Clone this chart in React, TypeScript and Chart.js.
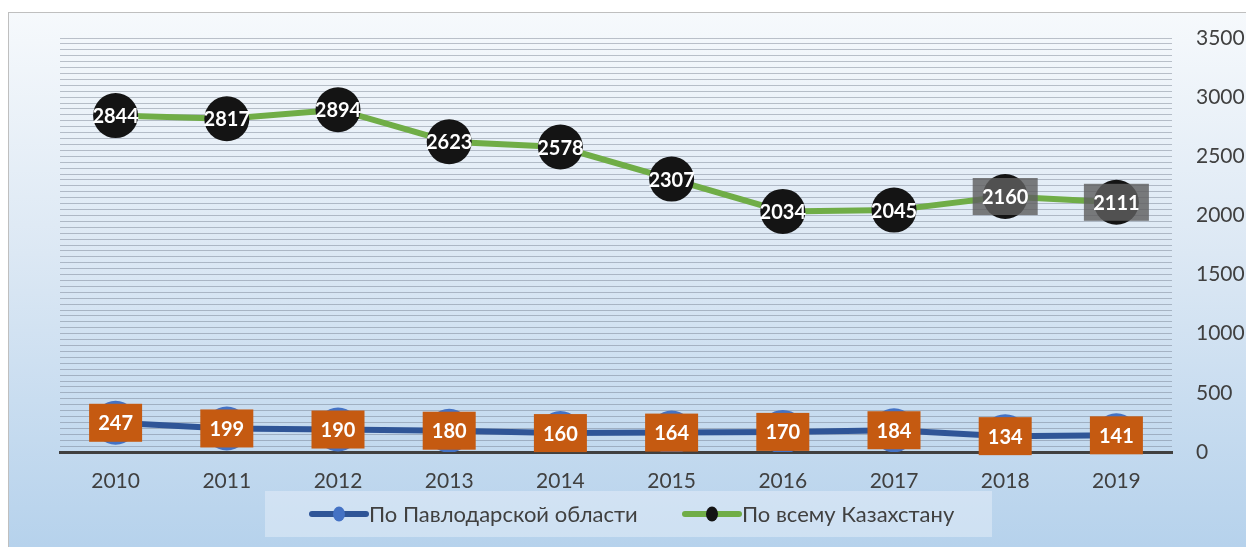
import React, { useEffect, useRef } from "react";
import { Chart, registerables } from "chart.js";

Chart.register(...registerables);

const years = ["2010", "2011", "2012", "2013", "2014", "2015", "2016", "2017", "2018", "2019"];
const pavlodar = [247, 199, 190, 180, 160, 164, 170, 184, 134, 141];
const kazakhstan = [2844, 2817, 2894, 2623, 2578, 2307, 2034, 2045, 2160, 2111];
const seriesNames = ["По Павлодарской области", "По всему Казахстану"];
const yMax = 3500;
const yLabelStep = 500;
const yGridStep = 50;

const FONT = "Lato, 'Noto Sans', 'DejaVu Sans', sans-serif";
const BLUE_LINE = "#2f5597";
const BLUE_POINT = "#4472c4";
const GREEN_LINE = "#70ad47";
const BLACK_POINT = "#141414";
const ORANGE = "#c55a11";

const labelPlugin = {
  id: "valueLabels",
  afterDatasetsDraw(chart: any) {
    const ctx = chart.ctx;
    ctx.save();
    ctx.font = `bold 20px ${FONT}`;
    ctx.textAlign = "center";
    ctx.textBaseline = "middle";
    chart.data.datasets.forEach((ds: any, di: number) => {
      const meta = chart.getDatasetMeta(di);
      meta.data.forEach((pt: any, i: number) => {
        const v = ds.data[i];
        const x = pt.x;
        const y = pt.y;
        if (di === 0) {
          ctx.fillStyle = ORANGE;
          ctx.fillRect(x - 26.5, y - 19, 53, 38);
        } else if (i >= 8) {
          ctx.fillStyle = "rgba(95,95,95,0.82)";
          ctx.fillRect(x - 32.5, y - 18.5, 65, 37);
        }
        ctx.fillStyle = "#ffffff";
        ctx.fillText(String(v), x, y + 1);
      });
    });
    ctx.restore();
  },
};

const legendPlugin = {
  id: "customLegend",
  afterDraw(chart: any) {
    const ctx = chart.ctx;
    ctx.save();
    ctx.fillStyle = "rgba(235,242,250,0.45)";
    ctx.fillRect(256, 478, 727, 46);
    const items = [
      { x: 301, text: seriesNames[0], line: BLUE_LINE, point: BLUE_POINT },
      { x: 674, text: seriesNames[1], line: GREEN_LINE, point: BLACK_POINT },
    ];
    const cy = 501;
    items.forEach((it) => {
      ctx.strokeStyle = it.line;
      ctx.lineWidth = 6;
      ctx.lineCap = "round";
      ctx.beginPath();
      ctx.moveTo(it.x + 2, cy);
      ctx.lineTo(it.x + 56, cy);
      ctx.stroke();
      ctx.fillStyle = it.point;
      ctx.beginPath();
      ctx.ellipse(it.x + 29, cy, 6, 7.5, 0, 0, Math.PI * 2);
      ctx.fill();
      ctx.fillStyle = "#404040";
      ctx.font = `22px ${FONT}`;
      ctx.textAlign = "left";
      ctx.textBaseline = "middle";
      ctx.fillText(it.text, it.x + 59, cy + 1);
    });
    ctx.restore();
  },
};

export default function App() {
  const ref = useRef<HTMLCanvasElement | null>(null);
  useEffect(() => {
    if (!ref.current) return;
    const chart = new Chart(ref.current, {
      type: "line",
      data: {
        labels: years,
        datasets: [
          {
            label: seriesNames[0],
            data: pavlodar,
            borderColor: BLUE_LINE,
            borderWidth: 6,
            pointRadius: 22,
            pointBackgroundColor: BLUE_POINT,
            pointBorderWidth: 0,
            tension: 0,
          },
          {
            label: seriesNames[1],
            data: kazakhstan,
            borderColor: GREEN_LINE,
            borderWidth: 6,
            pointRadius: 22.5,
            pointBackgroundColor: BLACK_POINT,
            pointBorderWidth: 0,
            tension: 0,
          },
        ],
      },
      options: {
        animation: false,
        responsive: true,
        maintainAspectRatio: false,
        layout: { padding: { top: 25, left: 51, right: 0, bottom: 45 } },
        plugins: {
          legend: { display: false },
          tooltip: { enabled: false },
        },
        scales: {
          x: {
            offset: true,
            grid: { display: false, drawTicks: false },
            border: { display: true, color: "#404040", width: 3 },
            ticks: {
              color: "#404040",
              font: { family: FONT, size: 21 },
              padding: 17,
            },
            afterFit: (s: any) => {
              s.height = 50;
              s.paddingLeft = 0;
              s.paddingRight = 0;
            },
          },
          y: {
            position: "right",
            min: 0,
            max: yMax,
            grid: {
              color: "rgba(105,115,130,0.42)",
              lineWidth: 1,
              drawTicks: false,
            },
            border: { display: false },
            afterBuildTicks: (s: any) => {
              const t: any[] = [];
              for (let v = 0; v <= yMax; v += yGridStep) t.push({ value: v });
              s.ticks = t;
            },
            ticks: {
              autoSkip: false,
              color: "#404040",
              font: { family: FONT, size: 21 },
              padding: 24,
              callback: (v: any) => (Number(v) % yLabelStep === 0 ? String(v) : ""),
            },
            afterFit: (s: any) => {
              s.width = 74;
              s.paddingTop = 0;
              s.paddingBottom = 0;
            },
          },
        },
      },
      plugins: [labelPlugin, legendPlugin],
    });
    return () => chart.destroy();
  }, []);

  return (
    <div
      style={{
        position: "fixed",
        left: 8,
        top: 12,
        width: 1238,
        height: 535,
        boxSizing: "border-box",
        borderLeft: "1px solid #bfbfbf",
        borderTop: "1px solid #bfbfbf",
        background: "linear-gradient(to bottom, #f6f9fc 0%, #dce8f4 45%, #b6d2ec 100%)",
        overflow: "hidden",
      }}
    >
      <div style={{ position: "relative", width: 1237, height: 534 }}>
        <canvas ref={ref} />
      </div>
    </div>
  );
}
